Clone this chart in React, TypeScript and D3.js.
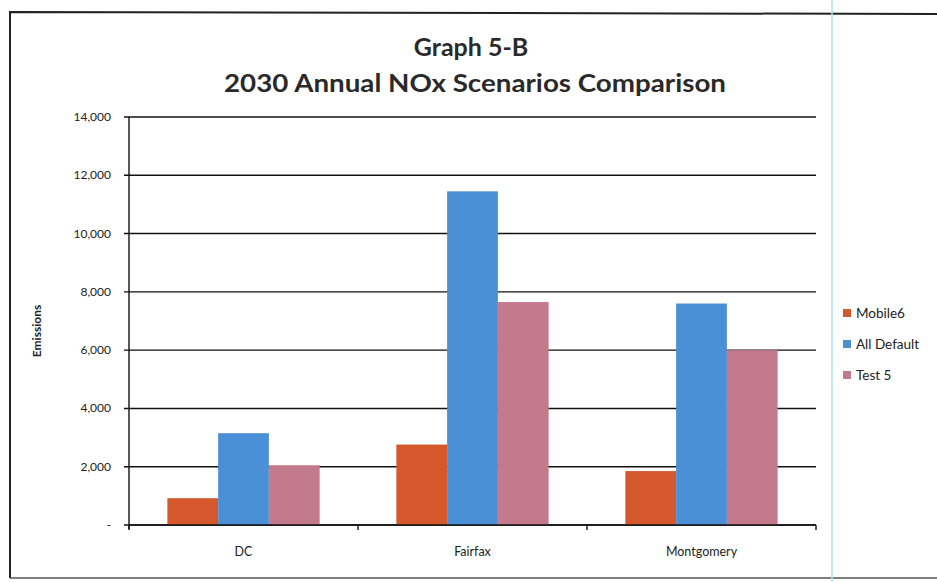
import React, { useEffect, useRef } from "react";
import * as d3 from "d3";

const categories = ["DC", "Fairfax", "Montgomery"];
const seriesNames = ["Mobile6", "All Default", "Test 5"];
const mobile6 = [920, 2760, 1850];
const allDefault = [3150, 11450, 7600];
const test5 = [2050, 7650, 6000];
const yTicks = [0, 2000, 4000, 6000, 8000, 10000, 12000, 14000];
const colors = ["#d5582c", "#4b8fd6", "#c27a8c"];

export default function App() {
  const ref = useRef<SVGSVGElement>(null);
  useEffect(() => {
    const svg = d3.select(ref.current);
    svg.selectAll("*").remove();
    const W = 937, H = 582;
    const left = 129, right = 816, top = 117, bottom = 525;
    const font = "Lato, 'Open Sans', 'DejaVu Sans', sans-serif";

    svg.append("rect").attr("width", W).attr("height", H).attr("fill", "#fff");
    // frame of scanned chart
    svg.append("path").attr("d", `M10,578 L10,12 L937,14`).attr("fill", "none").attr("stroke", "#222").attr("stroke-width", 2);
    svg.append("line").attr("x1", 10).attr("x2", 937).attr("y1", 578).attr("y2", 578).attr("stroke", "#555").attr("stroke-width", 1.5);
    svg.append("line").attr("x1", 832).attr("x2", 832).attr("y1", 0).attr("y2", H).attr("stroke", "#a9e3ef").attr("stroke-width", 1.5);

    const x0 = d3.scaleBand().domain(categories).range([left, right]).paddingInner(0.335).paddingOuter(0.1675);
    const x1 = d3.scaleBand().domain(seriesNames).range([0, x0.bandwidth()]).padding(0);
    const y = d3.scaleLinear().domain([0, 14000]).range([bottom, top]);

    // gridlines
    svg.append("g").selectAll("line").data(yTicks).join("line")
      .attr("x1", left - 5).attr("x2", right).attr("y1", d => y(d)).attr("y2", d => y(d))
      .attr("stroke", "#111").attr("stroke-width", 1.4);

    // y labels
    svg.append("g").selectAll("text").data(yTicks).join("text")
      .attr("x", left - 18).attr("y", d => y(d) + 4).attr("text-anchor", "end")
      .attr("font-family", font).attr("font-size", 12).attr("fill", "#222")
      .text(d => (d === 0 ? "-" : d3.format(",")(d)));

    // axis y
    svg.append("line").attr("x1", left).attr("x2", left).attr("y1", top).attr("y2", bottom + 4)
      .attr("stroke", "#111").attr("stroke-width", 1.4);

    const data = [mobile6, allDefault, test5];
    const g = svg.append("g");
    seriesNames.forEach((s, si) => {
      g.selectAll(`rect.s${si}`).data(categories).join("rect")
        .attr("class", `s${si}`)
        .attr("x", c => (x0(c) as number) + (x1(s) as number))
        .attr("width", x1.bandwidth())
        .attr("y", (c, i) => y(data[si][i]))
        .attr("height", (c, i) => bottom - y(data[si][i]))
        .attr("fill", colors[si]);
    });

    // x axis line and category ticks
    svg.append("line").attr("x1", left).attr("x2", right).attr("y1", bottom).attr("y2", bottom)
      .attr("stroke", "#111").attr("stroke-width", 1.4);
    const step = (right - left) / categories.length;
    svg.append("g").selectAll("line").data(d3.range(categories.length + 1)).join("line")
      .attr("x1", i => left + i * step).attr("x2", i => left + i * step)
      .attr("y1", bottom).attr("y2", bottom + 5).attr("stroke", "#111").attr("stroke-width", 1.4);

    svg.append("g").selectAll("text").data(categories).join("text")
      .attr("x", c => (x0(c) as number) + x0.bandwidth() / 2).attr("y", 556)
      .attr("text-anchor", "middle").attr("font-family", font).attr("font-size", 12.5).attr("fill", "#222")
      .text(c => c);

    // y title
    svg.append("text").attr("transform", "translate(41,331) rotate(-90)").attr("text-anchor", "middle")
      .attr("font-family", font).attr("font-weight", "bold").attr("font-size", 12).attr("fill", "#222").text("Emissions");

    // title
    svg.append("text").attr("x", 471).attr("y", 56).attr("text-anchor", "middle")
      .attr("font-family", font).attr("font-weight", "bold").attr("font-size", 25).attr("fill", "#2a2a2a").text("Graph 5-B");
    svg.append("text").attr("x", 475).attr("y", 92).attr("text-anchor", "middle")
      .attr("font-family", font).attr("font-weight", "bold").attr("font-size", 25).attr("fill", "#2a2a2a")
      .attr("textLength", 502).attr("lengthAdjust", "spacingAndGlyphs")
      .text("2030 Annual NOx Scenarios Comparison");

    // legend
    const lg = svg.append("g");
    seriesNames.forEach((s, i) => {
      const ly = 318 + i * 31;
      lg.append("rect").attr("x", 843).attr("y", ly - 9).attr("width", 8).attr("height", 8).attr("fill", colors[i]);
      lg.append("text").attr("x", 856).attr("y", ly).attr("font-family", font).attr("font-size", 13.5)
        .attr("fill", "#222").text(s);
    });
  }, []);
  return <svg ref={ref} width={937} height={582} style={{ position: "absolute", left: 0, top: 0 }} />;
}
